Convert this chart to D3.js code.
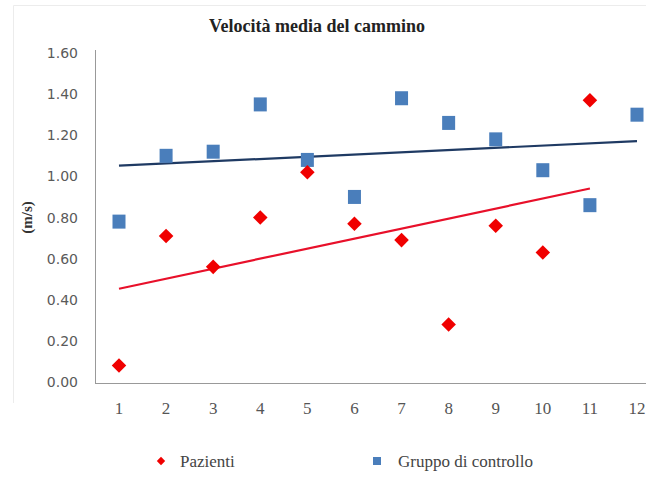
<!DOCTYPE html>
<html lang="it">
    <head>
        <meta charset="utf-8">
        <style>
            body { margin: 0; background: #fff; }
            .ytick { font-family: "DejaVu Sans", sans-serif; font-size: 14px; fill: #5a5a5a; }
            .xtick { font-family: "Liberation Serif", serif; font-size: 17px; fill: #555; }
            .title { font-family: "Liberation Serif", serif; font-size: 18px; font-weight: bold; fill: #222; }
            .legend { font-family: "Liberation Serif", serif; font-size: 17px; fill: #444; }
        </style>
        <script src="https://d3js.org/d3.v7.min.js"></script>
        <title>Velocità media del cammino</title>
    </head>
    <body>
        <div id="chart"></div>
        <script>
            // data
            var soggetti = [1, 2, 3, 4, 5, 6, 7, 8, 9, 10, 11, 12];
            var pazienti = [0.08, 0.71, 0.56, 0.80, 1.02, 0.77, 0.69, 0.28, 0.76, 0.63, 1.37, null];
            var controllo = [0.78, 1.10, 1.12, 1.35, 1.08, 0.90, 1.38, 1.26, 1.18, 1.03, 0.86, 1.30];
            var yTicks = [0, 0.2, 0.4, 0.6, 0.8, 1.0, 1.2, 1.4, 1.6];

            var width = 646, height = 481;

            var svg = d3.select("#chart")
                .append("svg")
                    .attr("width", width)
                    .attr("height", height);

            var x = d3.scaleLinear().domain([1, 12]).range([119, 637]);
            var y = d3.scaleLinear().domain([0, 1.6]).range([382, 53]);

            // faint outer frame
            svg.append("path")
                .attr("d", "M13.5,403 V5.5 H646")
                .attr("fill", "none")
                .attr("stroke", "#ececec");

            svg.append("text")
                .attr("class", "title")
                .attr("x", 317)
                .attr("y", 32)
                .attr("text-anchor", "middle")
                .text("Velocità media del cammino");

            // axes lines
            svg.append("line")
                .attr("x1", 95.5).attr("x2", 95.5)
                .attr("y1", 50).attr("y2", y(0) + 1)
                .attr("stroke", "#999");
            svg.append("line")
                .attr("x1", 95).attr("x2", width)
                .attr("y1", y(0) + 1.5).attr("y2", y(0) + 1.5)
                .attr("stroke", "#999");

            svg.selectAll(".ytick")
                .data(yTicks)
                .enter()
                .append("text")
                    .attr("class", "ytick")
                    .attr("x", 78)
                    .attr("y", function(d) { return y(d) + 5; })
                    .attr("text-anchor", "end")
                    .text(function(d) { return d3.format(".2f")(d); });

            svg.selectAll(".xtick")
                .data(soggetti)
                .enter()
                .append("text")
                    .attr("class", "xtick")
                    .attr("x", function(d) { return x(d); })
                    .attr("y", 414)
                    .attr("text-anchor", "middle")
                    .text(function(d) { return d; });

            svg.append("text")
                .attr("transform", "translate(32," + y(0.8) + ") rotate(-90)")
                .attr("text-anchor", "middle")
                .style("font-family", "Liberation Serif, serif")
                .style("font-size", "15px")
                .style("font-weight", "bold")
                .style("fill", "#333")
                .text("(m/s)");

            // linear trendlines (least squares, like Excel)
            function trend(values) {
                var pts = soggetti.map(function(s, i) { return [s, values[i]]; })
                    .filter(function(p) { return p[1] != null; });
                var mx = d3.mean(pts, function(p) { return p[0]; });
                var my = d3.mean(pts, function(p) { return p[1]; });
                var sxy = d3.sum(pts, function(p) { return (p[0] - mx) * (p[1] - my); });
                var sxx = d3.sum(pts, function(p) { return (p[0] - mx) * (p[0] - mx); });
                var b = sxy / sxx, a = my - b * mx;
                var ext = d3.extent(pts, function(p) { return p[0]; });
                return ext.map(function(v) { return [v, a + b * v]; });
            }

            var line = d3.line()
                .x(function(d) { return x(d[0]); })
                .y(function(d) { return y(d[1]); });

            svg.append("path")
                .datum(trend(controllo))
                .attr("d", line)
                .attr("fill", "none")
                .attr("stroke", "#1f3a63")
                .attr("stroke-width", 2.2);

            svg.append("path")
                .datum(trend(pazienti))
                .attr("d", line)
                .attr("fill", "none")
                .attr("stroke", "#e8102a")
                .attr("stroke-width", 2.2);

            // control group squares
            svg.selectAll(".sq")
                .data(controllo)
                .enter()
                .append("rect")
                    .attr("class", "sq")
                    .attr("x", function(d, i) { return x(soggetti[i]) - 6.5; })
                    .attr("y", function(d) { return y(d) - 7; })
                    .attr("width", 13)
                    .attr("height", 14)
                    .attr("fill", "#4a7ebb");

            // patients diamonds
            var diamond = d3.symbol().type(d3.symbolDiamond2).size(135);
            svg.selectAll(".dm")
                .data(pazienti.filter(function(d) { return d != null; }))
                .enter()
                .append("path")
                    .attr("class", "dm")
                    .attr("d", diamond)
                    .attr("transform", function(d, i) {
                        return "translate(" + x(soggetti[i]) + "," + y(d) + ")";
                    })
                    .attr("fill", "#f00000");

            // legend
            svg.append("path")
                .attr("d", d3.symbol().type(d3.symbolDiamond2).size(45))
                .attr("transform", "translate(161,461)")
                .attr("fill", "#f00000");
            svg.append("text")
                .attr("class", "legend")
                .attr("x", 180).attr("y", 467)
                .text("Pazienti");

            svg.append("rect")
                .attr("x", 373).attr("y", 457)
                .attr("width", 8).attr("height", 8)
                .attr("fill", "#4a7ebb");
            svg.append("text")
                .attr("class", "legend")
                .attr("x", 398).attr("y", 467)
                .text("Gruppo di controllo");
        </script>
    </body>
</html>
